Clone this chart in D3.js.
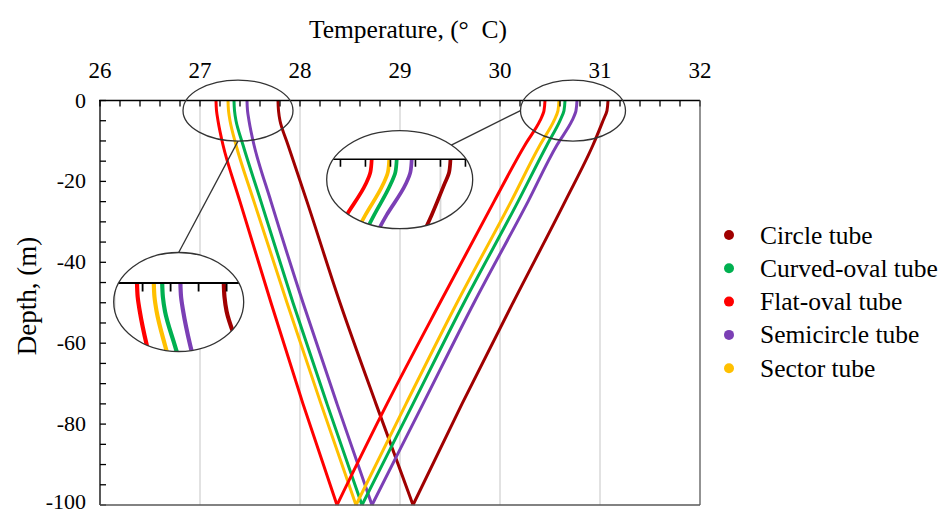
<!DOCTYPE html>
<html><head><meta charset="utf-8">
<script src="https://cdn.jsdelivr.net/npm/d3@7"></script>
<style>
body{margin:0;background:#fff}
text{font-family:"Liberation Serif","Times New Roman",serif;fill:#000}
</style>
</head><body>
<svg id="chart" width="948" height="514"></svg>
<script>
// ---------------- data ----------------
const depths = [0, -2.5, -5, -11, -25, -50, -75, -100];
const tubeNames = ["Circle tube", "Curved-oval tube", "Flat-oval tube", "Semicircle tube", "Sector tube"];
const tubeColors = ["#a00000", "#00b050", "#ff0000", "#7b3fb5", "#ffc000"];
// inlet leg (hot water going down) and outlet leg (coming back up), °C at each depth
const inletCircle       = [31.08, 31.07, 31.03, 30.93, 30.65, 30.13, 29.62, 29.13];
const outletCircle      = [27.78, 27.785, 27.80, 27.88, 28.07, 28.40, 28.76, 29.13];
const inletCurvedOval   = [30.65, 30.64, 30.60, 30.47, 30.18, 29.64, 29.13, 28.62];
const outletCurvedOval  = [27.34, 27.345, 27.36, 27.43, 27.61, 27.93, 28.27, 28.62];
const inletFlatOval     = [30.45, 30.44, 30.40, 30.25, 29.94, 29.40, 28.87, 28.37];
const outletFlatOval    = [27.16, 27.165, 27.18, 27.23, 27.40, 27.71, 28.03, 28.37];
const inletSemicircle   = [30.77, 30.76, 30.72, 30.57, 30.28, 29.74, 29.23, 28.72];
const outletSemicircle  = [27.47, 27.475, 27.49, 27.54, 27.71, 28.03, 28.37, 28.72];
const inletSector       = [30.59, 30.58, 30.54, 30.40, 30.11, 29.57, 29.06, 28.56];
const outletSector      = [27.28, 27.285, 27.30, 27.36, 27.54, 27.87, 28.21, 28.56];
const xTickLabels = [26, 27, 28, 29, 30, 31, 32];
const yTickLabels = [0, -20, -40, -60, -80, -100];

const inlets  = [inletCircle, inletCurvedOval, inletFlatOval, inletSemicircle, inletSector];
const outlets = [outletCircle, outletCurvedOval, outletFlatOval, outletSemicircle, outletSector];
const tubes = tubeNames.map((name, i) => ({
  name, color: tubeColors[i],
  inlet: depths.map((d, j) => ({d, t: inlets[i][j]})),
  outlet: depths.map((d, j) => ({d, t: outlets[i][j]}))
}));
const drawOrder = [0, 3, 1, 4, 2];

// ---------------- layout ----------------
const svg = d3.select("#chart");
const x = d3.scaleLinear().domain([26, 32]).range([100, 700]);
const y = d3.scaleLinear().domain([-100, 0]).range([505, 100.5]);
const line = d3.line().x(p => x(p.t)).y(p => y(p.d)).curve(d3.curveMonotoneY);

function drawPlot(g, opts) {
  // vertical gridlines
  g.append("g").selectAll("line").data(d3.range(27, 32)).join("line")
    .attr("x1", d => x(d)).attr("x2", d => x(d))
    .attr("y1", y(0)).attr("y2", y(-100))
    .attr("stroke", "#d9d9d9").attr("stroke-width", 1.5);
  // series
  const lg = g.append("g").attr("fill", "none").attr("stroke-width", 3).attr("stroke-linejoin", "round");
  drawOrder.forEach(i => {
    const s = tubes[i];
    lg.append("path").attr("d", line(s.inlet)).attr("stroke", s.color);
    lg.append("path").attr("d", line(s.outlet)).attr("stroke", s.color);
  });
  // top axis with inward ticks
  const ax = g.append("g").attr("stroke", "#000").attr("stroke-width", 1.3);
  ax.append("line").attr("x1", x(26) - 1).attr("x2", x(32)).attr("y1", y(0)).attr("y2", y(0));
  ax.selectAll(".xt").data(d3.range(0, 31).map(k => 26 + k * 0.2)).join("line")
    .attr("x1", d => x(d)).attr("x2", d => x(d))
    .attr("y1", y(0)).attr("y2", y(0) + 6);
  if (opts.frame) {
    ax.append("line").attr("x1", x(26)).attr("x2", x(26)).attr("y1", y(0)).attr("y2", y(-100));
    ax.selectAll(".yt").data(d3.range(0, 21).map(k => -k * 5)).join("line")
      .attr("x1", x(26)).attr("x2", x(26) + 6)
      .attr("y1", d => y(d)).attr("y2", d => y(d));
    g.append("line").attr("x1", x(26)).attr("x2", x(32)).attr("y1", y(-100)).attr("y2", y(-100))
      .attr("stroke", "#595959").attr("stroke-width", 1.5);
    g.append("line").attr("x1", x(32)).attr("x2", x(32)).attr("y1", y(0)).attr("y2", y(-100))
      .attr("stroke", "#595959").attr("stroke-width", 1.3);
  }
}

// main plot
drawPlot(svg.append("g"), {frame: true});

// tick labels
svg.append("g").selectAll("text").data(xTickLabels).join("text")
  .attr("x", d => x(d)).attr("y", 78).attr("text-anchor", "middle")
  .style("font-size", "23px").text(d => d);
svg.append("g").selectAll("text").data(yTickLabels).join("text")
  .attr("x", 86).attr("y", d => Math.min(y(d) + 7, 509)).attr("text-anchor", "end")
  .style("font-size", "22px").text(d => d);

// axis titles
svg.append("text").attr("x", 408).attr("y", 38).attr("text-anchor", "middle")
  .style("font-size", "25.5px").text("Temperature, (°\u00a0\u00a0C)");
svg.append("text").attr("transform", "translate(36,296) rotate(-90)").attr("text-anchor", "middle")
  .style("font-size", "27px").text("Depth, (m)");

// ---------------- magnifier annotations ----------------
const magnifiers = [
  {focusT: 27.38, focusD: -2.5, frx: 55, fry: 30.5,   // circled region
   cx: 178.7, cy: 302, rx: 65, ry: 49.5,              // inset ellipse
   anchorT: 27.16, ax: 137, ay: 283, k: 1.4,
   link: [[0, 1], [0, -1]]},
  {focusT: 30.73, focusD: -2.5, frx: 52.5, fry: 30.5,
   cx: 399.7, cy: 179.7, rx: 73, ry: 49,
   anchorT: 30.45, ax: 371.7, ay: 159.3, k: 1.25,
   link: [[-1, 0], [0.707, -0.707]]}
];
const defs = svg.append("defs");
magnifiers.forEach((m, i) => {
  const fcx = x(m.focusT), fcy = y(m.focusD);
  svg.append("ellipse").attr("cx", fcx).attr("cy", fcy).attr("rx", m.frx).attr("ry", m.fry)
    .attr("fill", "none").attr("stroke", "#333").attr("stroke-width", 1.3);
  svg.append("line")
    .attr("x1", fcx + m.link[0][0] * m.frx).attr("y1", fcy + m.link[0][1] * m.fry)
    .attr("x2", m.cx + m.link[1][0] * m.rx).attr("y2", m.cy + m.link[1][1] * m.ry)
    .attr("stroke", "#333").attr("stroke-width", 1.3);
  defs.append("clipPath").attr("id", "clip" + i).append("ellipse")
    .attr("cx", m.cx).attr("cy", m.cy).attr("rx", m.rx).attr("ry", m.ry);
  svg.append("ellipse").attr("cx", m.cx).attr("cy", m.cy).attr("rx", m.rx).attr("ry", m.ry)
    .attr("fill", "#fff");
  const clipped = svg.append("g").attr("clip-path", `url(#clip${i})`);
  const zg = clipped.append("g")
    .attr("transform", `translate(${m.ax},${m.ay}) scale(${m.k}) translate(${-x(m.anchorT)},${-y(0)})`);
  drawPlot(zg, {frame: false});
  svg.append("ellipse").attr("cx", m.cx).attr("cy", m.cy).attr("rx", m.rx).attr("ry", m.ry)
    .attr("fill", "none").attr("stroke", "#333").attr("stroke-width", 1.3);
});

// ---------------- legend ----------------
const lgd = svg.append("g");
tubes.forEach((s, i) => {
  const ly = 235 + i * 33.3;
  lgd.append("circle").attr("cx", 729).attr("cy", ly).attr("r", 5).attr("fill", s.color);
  lgd.append("text").attr("x", 760).attr("y", ly + 8.5).style("font-size", "25.5px").text(s.name);
});
</script>
</body></html>
